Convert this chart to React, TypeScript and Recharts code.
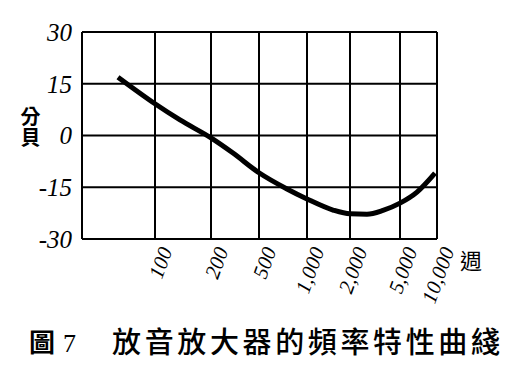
import React from 'react';
import { LineChart, Line, XAxis, YAxis, CartesianGrid } from 'recharts';

// x positions are in grid units along the hand-drawn frequency axis
const freqTicks = [0, 73, 129, 177, 225, 268, 318, 355];
const freqLabels = ['', '100', '200', '500', '1,000', '2,000', '5,000', '10,000'];
const dbTicks = [-30, -15, 0, 15, 30];

const curveX = [36, 73, 98, 129, 151, 177, 205, 225, 251, 268, 285, 301, 318, 335, 353];
const curveDb = [16.9, 9.2, 4.5, -0.7, -5.1, -10.8, -15.5, -18.4, -21.6, -22.7, -22.8, -21.7, -19.6, -16.4, -10.9];

const data = curveX.map((x, i) => ({ x, db: curveDb[i] }));

const digitFont = '"Liberation Serif", "DejaVu Serif", serif';
const cjkFont = '"Noto Sans CJK TC", "Noto Sans CJK SC", sans-serif';

const FreqTick = (props: any) => {
  const { x, y, payload } = props;
  const idx = freqTicks.indexOf(payload.value);
  const label = freqLabels[idx];
  if (!label) return null;
  const ax = x + 11;
  const ay = y + 1;
  return (
    <text
      x={ax}
      y={ay}
      transform={`rotate(-70 ${ax} ${ay})`}
      textAnchor="end"
      dominantBaseline="central"
      fontFamily={digitFont}
      fontStyle="italic"
      fontSize={21}
      fill="#000"
    >
      {label}
    </text>
  );
};

const App: React.FC = () => {
  return (
    <div style={{ position: 'relative', width: 520, height: 357, background: '#fff' }}>
      <LineChart width={520} height={300} data={data} margin={{ top: 24, right: 91, bottom: 9, left: 0 }}>
        <CartesianGrid stroke="#000" strokeWidth={2} horizontal vertical />
        <XAxis
          type="number"
          dataKey="x"
          domain={[0, 355]}
          ticks={freqTicks}
          interval={0}
          height={60}
          axisLine={{ stroke: '#000', strokeWidth: 2 }}
          tickLine={false}
          tick={<FreqTick />}
        />
        <YAxis
          type="number"
          domain={[-30, 30]}
          ticks={dbTicks}
          interval={0}
          width={74}
          axisLine={{ stroke: '#000', strokeWidth: 2 }}
          tickLine={false}
          tickSize={0}
          tickMargin={10}
          tick={{ fontFamily: digitFont, fontStyle: 'italic', fontSize: 25, fill: '#000' }}
        />
        <Line
          type="monotone"
          dataKey="db"
          stroke="#000"
          strokeWidth={5}
          dot={false}
          isAnimationActive={false}
        />
      </LineChart>
      {/* y-axis unit, written top to bottom */}
      <div
        style={{
          position: 'absolute',
          left: 11,
          top: 98,
          writingMode: 'vertical-rl',
          fontFamily: cjkFont,
          fontWeight: 700,
          fontSize: 20,
          lineHeight: '22px',
          letterSpacing: 1,
        }}
      >
        分貝
      </div>
      <div style={{ position: 'absolute', left: 452, top: 240, fontFamily: cjkFont, fontSize: 22, lineHeight: '22px' }}>
        週
      </div>
      <svg width={520} height={45} style={{ position: 'absolute', left: 0, top: 312 }}>
        <text x={21} y={32} fontFamily={cjkFont} fontWeight={700} fontSize={26} fill="#000">
          圖
        </text>
        <text x={55} y={32} fontFamily={digitFont} fontSize={26} fill="#000">
          7
        </text>
        <text
          x={104}
          y={33}
          fontFamily={cjkFont}
          fontWeight={500}
          fontSize={29}
          fill="#000"
          textLength={388}
          lengthAdjust="spacing"
        >
          放音放大器的頻率特性曲綫
        </text>
      </svg>
    </div>
  );
};

export default App;
